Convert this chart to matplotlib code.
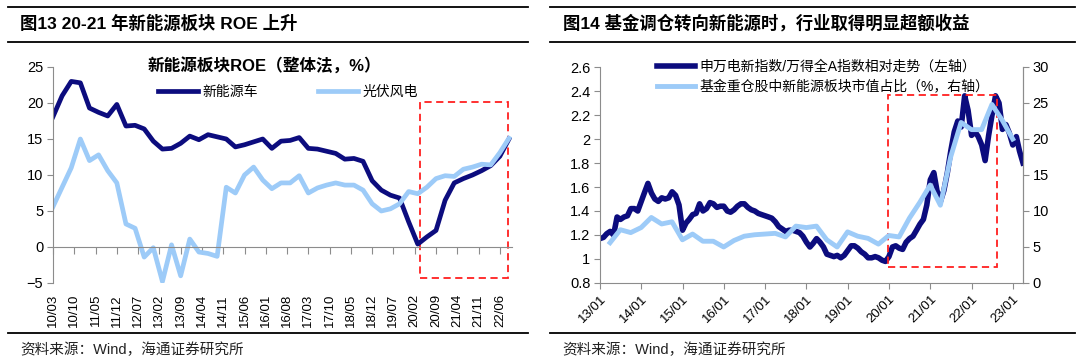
import numpy as np
import pandas as pd
import matplotlib
matplotlib.use('Agg')
from matplotlib import pyplot as plt
import matplotlib.dates as mdates
from matplotlib.lines import Line2D
from matplotlib.patches import Rectangle
from matplotlib.ticker import FuncFormatter

plt.rcParams['font.family'] = ['Liberation Sans', 'Noto Sans CJK SC', 'DejaVu Sans']

# 图13：新能源板块ROE（整体法，%），季度，2010/03-2022/09
roe_dates = pd.date_range('2010-03-01', '2022-09-01', freq='3MS')
nev_roe = [18.1, 21.0, 23.0, 22.8, 19.3, 18.7, 18.2, 19.8, 16.8, 16.9,
           16.4, 14.7, 13.6, 13.7, 14.4, 15.4, 14.9, 15.6, 15.3, 15.0,
           13.9, 14.2, 14.6, 15.0, 13.7, 14.7, 14.8, 15.2, 13.7, 13.6,
           13.3, 13.0, 12.2, 12.3, 11.9, 9.2, 7.9, 7.2, 6.8, 3.5,
           0.4, 1.4, 2.3, 6.5, 8.9, 9.5, 10.0, 10.6, 11.3, 12.6, 15.0]
pv_wind_roe = [5.6, 8.3, 11.0, 15.0, 12.0, 12.8, 10.6, 8.9, 3.2, 2.6,
               -1.4, -0.1, -4.8, 0.3, -4.0, 1.1, -0.7, -0.9, -1.3, 8.3,
               7.5, 10.0, 11.1, 9.3, 8.1, 8.9, 8.9, 9.9, 7.5, 8.2,
               8.6, 8.9, 8.6, 8.6, 7.9, 6.0, 5.0, 5.3, 6.0, 7.7,
               7.4, 8.3, 9.5, 9.9, 9.8, 10.8, 11.1, 11.5, 11.4, 13.1, 15.1]
roe_labels = ['10/03', '10/10', '11/05', '11/12', '12/07', '13/02', '13/09', '14/04',
              '14/11', '15/06', '16/01', '16/08', '17/03', '17/10', '18/05', '18/12',
              '19/07', '20/02', '20/09', '21/04', '21/11', '22/06']

# 图14：申万电新指数/万得全A（左轴，月度）与基金重仓新能源市值占比（右轴，季度）
rel_dates = pd.date_range('2013-01-01', periods=124, freq='MS')
rel_index = [1.17, 1.18, 1.21, 1.23, 1.20, 1.35, 1.33, 1.35, 1.36, 1.42,
             1.42, 1.40, 1.48, 1.56, 1.63, 1.55, 1.50, 1.48, 1.51, 1.50,
             1.51, 1.56, 1.53, 1.45, 1.24, 1.30, 1.33, 1.37, 1.38, 1.46,
             1.40, 1.42, 1.47, 1.46, 1.43, 1.44, 1.44, 1.40, 1.39, 1.41,
             1.44, 1.46, 1.46, 1.43, 1.41, 1.40, 1.38, 1.37, 1.36, 1.35,
             1.34, 1.31, 1.27, 1.25, 1.23, 1.24, 1.24, 1.23, 1.22, 1.19,
             1.14, 1.10, 1.13, 1.17, 1.14, 1.10, 1.04, 1.03, 1.02, 1.03,
             1.01, 1.03, 1.07, 1.11, 1.11, 1.09, 1.06, 1.04, 1.01, 1.01,
             1.02, 1.01, 0.99, 0.98, 1.02, 1.10, 1.11, 1.09, 1.08, 1.14,
             1.17, 1.19, 1.24, 1.29, 1.33, 1.45, 1.66, 1.72, 1.57, 1.48,
             1.57, 1.72, 1.90, 2.06, 2.15, 2.10, 2.36, 2.24, 2.03, 2.06,
             2.02, 1.95, 1.82, 2.03, 2.20, 2.36, 2.30, 2.08, 2.12, 2.05,
             1.95, 2.02, 1.90, 1.80]
fund_dates = pd.date_range('2013-03-31', periods=40, freq='QE')
fund_share = [5.6, 7.4, 7.0, 7.7, 9.1, 8.2, 8.5, 6.0, 6.8, 5.8,
              5.8, 5.0, 5.9, 6.5, 6.7, 6.8, 6.9, 6.4, 7.9, 7.7,
              7.9, 6.0, 5.0, 7.1, 6.5, 6.2, 5.4, 6.6, 6.4, 9.0,
              11.2, 13.6, 10.8, 17.5, 22.3, 21.3, 21.3, 24.8, 22.6, 20.0]

dark = '#0C0C7E'
light = '#9DCBF8'
gray = '#8C8C8C'
W, H = 1080, 364

fig = plt.figure(figsize=(10.8, 3.64), dpi=100)

def fx(px):
    return px / W

def fy(py):
    return 1 - py / H

# 标题与分隔线
for x0, x1 in [(8, 528), (550, 1075)]:
    for yy in [7, 42, 333]:
        fig.add_artist(Line2D([fx(x0), fx(x1)], [fy(yy), fy(yy)], color='black', lw=1.3))
fig.text(fx(20), fy(23), '图13 20-21 年新能源板块 ROE 上升', fontsize=12.5, fontweight='bold', va='center')
fig.text(fx(563), fy(23), '图14 基金调仓转向新能源时，行业取得明显超额收益', fontsize=12.5, fontweight='bold', va='center')
fig.text(fx(20), fy(350), '资料来源：Wind，海通证券研究所', fontsize=10.5, va='center', color='#222222')
fig.text(fx(562), fy(350), '资料来源：Wind，海通证券研究所', fontsize=10.5, va='center', color='#222222')

# ---------- 左图 ----------
ax = fig.add_axes([fx(53), fy(283), fx(512 - 53), (283 - 67) / H])
roe_x = (roe_dates.year - 2010) * 12 + roe_dates.month - 3
ax.plot(roe_x, nev_roe, color=dark, lw=3.4, solid_joinstyle='round', label='新能源车')
ax.plot(roe_x, pv_wind_roe, color=light, lw=3.4, solid_joinstyle='round', label='光伏风电')
ax.set_xlim(0, 151)
ax.set_ylim(-5, 25)
ax.set_yticks(range(-5, 26, 5))
ax.tick_params(axis='y', labelsize=10.5, length=4, color=gray, pad=3)
for s in ['top', 'right']:
    ax.spines[s].set_visible(False)
ax.spines['left'].set_color(gray)
ax.spines['bottom'].set_position(('data', 0))
ax.spines['bottom'].set_color(gray)
tick_pos = np.arange(len(roe_labels)) * 7
ax.set_xticks(tick_pos)
ax.tick_params(axis='x', labelbottom=False, length=5, color=gray)
sec = ax.secondary_xaxis(0)
sec.set_xticks(tick_pos, roe_labels, rotation=90)
sec.tick_params(length=0, labelsize=9.5, pad=8)
sec.spines['bottom'].set_visible(False)
# 红色虚线框
m0 = (2020 - 2010) * 12 + 0.7
m1 = (2022 - 2010) * 12 + 5.7
ax.add_patch(Rectangle((m0, -4.3), m1 - m0, 24.4, fill=False, ec='#FF2020', lw=1.3, ls=(0, (4, 2.5)), clip_on=False))
fig.text(fx(264), fy(66), '新能源板块ROE（整体法，%）', fontsize=12, fontweight='bold', ha='center', va='center')
ax.legend(loc='center left', bbox_to_anchor=((158 - 53) / 459, (283 - 92) / 216), ncol=2, frameon=False,
          fontsize=10, handlelength=2.9, handletextpad=0.3, columnspacing=4.3, borderpad=0, borderaxespad=0)

# ---------- 右图 ----------
ax2 = fig.add_axes([fx(600), fy(283), fx(1023 - 600), (283 - 67) / H])
l1, = ax2.plot(rel_dates, rel_index, color=dark, lw=4, solid_joinstyle='round',
               label='申万电新指数/万得全A指数相对走势（左轴）')
ax2.set_ylim(0.8, 2.6)
ax2.set_yticks(np.arange(0.8, 2.61, 0.2))
ax2.yaxis.set_major_formatter(FuncFormatter(lambda v, p: '%g' % round(v, 1)))
ax2.set_xlim(pd.Timestamp('2013-01-01'), pd.Timestamp('2023-04-01'))
year_ticks = pd.date_range('2013-01-01', '2023-01-01', freq='YS')
ax2.set_xticks(year_ticks, [d.strftime('%y/%m') for d in year_ticks], rotation=45, ha='right',
               rotation_mode='anchor')
ax2.tick_params(axis='x', labelsize=9.5, length=4, color=gray, pad=3)
ax2.tick_params(axis='y', labelsize=10.5, length=4, color=gray, pad=3)
ax2.spines['top'].set_visible(False)
for s in ['left', 'bottom', 'right']:
    ax2.spines[s].set_color(gray)

ax3 = ax2.twinx()
l2, = ax3.plot(fund_dates, fund_share, color=light, lw=3.5, solid_joinstyle='round',
               label='基金重仓股中新能源板块市值占比（%，右轴）')
ax3.set_ylim(0, 30)
ax3.set_yticks(range(0, 31, 5))
ax3.tick_params(axis='y', labelsize=10.5, length=4, color=gray, pad=3)
ax3.spines['top'].set_visible(False)
ax3.spines['right'].set_color(gray)
ax3.spines['left'].set_visible(False)
ax3.spines['bottom'].set_visible(False)

b0 = mdates.date2num(pd.Timestamp('2019-12-20'))
b1 = mdates.date2num(pd.Timestamp('2022-08-10'))
ax2.add_patch(Rectangle((b0, 0.933), b1 - b0, 2.367 - 0.933,
                        fill=False, ec='#FF2020', lw=1.3, ls=(0, (4, 2.5)), zorder=5))
ax3.legend(handles=[l1, l2], loc='center left', bbox_to_anchor=((657 - 600) / 423, (283 - 77) / 216),
           frameon=False, fontsize=10, handlelength=2.7, handletextpad=0.35, labelspacing=0.45,
           borderpad=0, borderaxespad=0)

fig.savefig('out.png', dpi=100)
